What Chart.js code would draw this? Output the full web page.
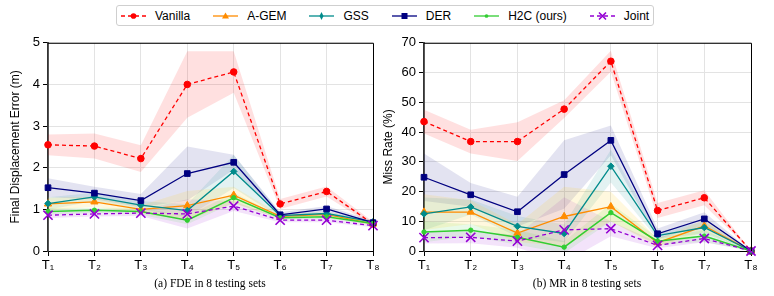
<!DOCTYPE html>
<html>
<head>
<meta charset="utf-8">
<script src="https://cdn.jsdelivr.net/npm/chart.js@4.4.1/dist/chart.umd.min.js"></script>
<style>
  body { margin: 0; width: 774px; height: 296px; background: #fff; position: relative; overflow: hidden;
         font-family: "Liberation Sans", Arial, sans-serif; }
  canvas { position: absolute; top: 32px; }
  #fdeChart { left: 0; }
  #mrChart { left: 380px; }
  #legend { position: absolute; left: 116px; top: 5px; height: 21px; box-sizing: border-box;
            border: 1px solid #cfcfcf; border-radius: 3px; display: flex; align-items: center;
            padding: 0 4px 0 4px; font-size: 12px; color: #000; }
  .item { display: flex; align-items: center; margin-right: 23px; }
  .item:last-child { margin-right: 0; }
  .item svg { margin-right: 9px; }
  .caption { position: absolute; top: 277px; font-family: "Liberation Serif", "Times New Roman", serif;
             font-size: 11.5px; transform: translateX(-50%); white-space: nowrap; }
</style>
</head>
<body>
<div id="legend"></div>
<canvas id="fdeChart" width="387" height="254"></canvas>
<canvas id="mrChart" width="394" height="254"></canvas>
<div class="caption" style="left:210px">(a) FDE in 8 testing sets</div>
<div class="caption" style="left:587px">(b) MR in 8 testing sets</div>
<script>
const categories = ["T\u2081", "T\u2082", "T\u2083", "T\u2084", "T\u2085", "T\u2086", "T\u2087", "T\u2088"];
const methods = ["Vanilla", "A-GEM", "GSS", "DER", "H2C (ours)", "Joint"];

// FDE (m), mean and std per testing set
const fdeVanilla = [2.55, 2.52, 2.22, 4.0, 4.3, 1.13, 1.43, 0.65];
const fdeAgem = [1.13, 1.18, 1.0, 1.09, 1.34, 0.83, 0.88, 0.65];
const fdeGss = [1.14, 1.30, 1.10, 0.97, 1.91, 0.85, 0.90, 0.70];
const fdeDer = [1.52, 1.39, 1.21, 1.86, 2.13, 0.87, 1.01, 0.68];
const fdeH2c = [0.95, 0.98, 0.95, 0.74, 1.28, 0.80, 0.82, 0.66];
const fdeJoint = [0.86, 0.89, 0.91, 0.89, 1.08, 0.74, 0.74, 0.61];

const fdeVanillaStd = [0.25, 0.30, 0.32, 0.80, 0.50, 0.12, 0.12, 0.05];
const fdeAgemStd = [0.15, 0.12, 0.10, 0.35, 0.20, 0.05, 0.05, 0.04];
const fdeGssStd = [0.15, 0.10, 0.10, 0.15, 0.40, 0.05, 0.05, 0.04];
const fdeDerStd = [0.23, 0.15, 0.16, 0.65, 0.18, 0.06, 0.07, 0.05];
const fdeH2cStd = [0.08, 0.06, 0.08, 0.10, 0.12, 0.04, 0.04, 0.03];
const fdeJointStd = [0.07, 0.06, 0.07, 0.35, 0.12, 0.05, 0.05, 0.04];

// Miss rate (%), mean and std per testing set
const mrVanilla = [43.5, 36.8, 36.8, 47.7, 63.8, 13.6, 17.9, 0];
const mrAgem = [13.1, 13.1, 6.0, 11.6, 14.9, 2.8, 8.4, 0];
const mrGss = [12.5, 14.8, 8.3, 5.9, 28.5, 5.2, 7.9, 0];
const mrDer = [24.8, 18.9, 13.2, 25.7, 37.2, 5.8, 10.8, 0];
const mrH2c = [6.4, 7.0, 4.6, 1.3, 12.9, 3.3, 5.0, 0];
const mrJoint = [4.5, 4.6, 3.3, 7.1, 7.5, 1.9, 4.2, 0];

const mrVanillaStd = [4, 4, 6.5, 3, 3.5, 2.5, 2.5, 0];
const mrAgemStd = [6, 4, 3, 10, 5, 1.3, 2, 0];
const mrGssStd = [5.5, 2.5, 3.5, 3, 5.5, 1.2, 2, 0];
const mrDerStd = [8, 4, 5, 11.5, 5, 1.8, 2.2, 0];
const mrH2cStd = [3.5, 2, 2.5, 2, 3, 1.2, 2, 0];
const mrJointStd = [2, 2, 2.2, 11, 2.5, 1, 1.3, 0];

const styles = [
  { color: "#ff0000", band: "rgba(255,0,0,0.12)", marker: "circle", radius: 3.3, dash: [4, 3], width: 1.3 },
  { color: "#ff8c00", band: "rgba(255,200,0,0.13)", marker: "triangle", radius: 4.2, dash: [], width: 1.3 },
  { color: "#008b8b", band: "rgba(0,139,139,0.11)", marker: "rectRot", radius: 3.3, dash: [], width: 1.3 },
  { color: "#000080", band: "rgba(0,0,128,0.11)", marker: "rect", radius: 4, dash: [], width: 1.3 },
  { color: "#32cd32", band: "rgba(50,205,50,0.11)", marker: "circle", radius: 2.2, dash: [], width: 1.5 },
  { color: "#9400d3", band: "rgba(148,0,211,0.11)", marker: "crossRot", radius: 6.5, dash: [4, 3], width: 1.3 },
];

function buildDatasets(means, stds) {
  const bands = [];
  const lines = [];
  means.forEach((m, i) => {
    const s = styles[i];
    bands.push({
      data: m.map((v, k) => v + stds[i][k]), order: 20,
      borderWidth: 0, pointRadius: 0, backgroundColor: s.band, fill: "+1", tension: 0,
    });
    bands.push({
      data: m.map((v, k) => v - stds[i][k]), order: 20,
      borderWidth: 0, pointRadius: 0, backgroundColor: s.band, fill: false, tension: 0,
    });
    // later methods sit on top, as in the original figure
    lines.push({
      label: methods[i], data: m, order: 10 - i, borderColor: s.color, backgroundColor: s.color,
      borderWidth: s.width, borderDash: s.dash, pointStyle: s.marker, pointRadius: s.radius,
      pointBorderWidth: s.marker === "crossRot" ? 1.6 : 1, pointBorderColor: s.color,
      fill: false, tension: 0, clip: false,
    });
  });
  return bands.concat(lines);
}

const framePlugin = {
  id: "frame",
  afterDraw(chart) {
    const { ctx, chartArea: a } = chart;
    ctx.save();
    ctx.strokeStyle = "#000";
    ctx.lineWidth = 1;
    ctx.beginPath();
    ctx.moveTo(a.left, a.top + 0.5);
    ctx.lineTo(a.right + 0.5, a.top + 0.5);
    ctx.lineTo(a.right + 0.5, a.bottom);
    ctx.stroke();
    ctx.restore();
  },
};

function makeChart(id, datasets, yMax, yStep, yTitle, yWidth, titleTop, rightPad) {
  return new Chart(document.getElementById(id).getContext("2d"), {
    type: "line",
    data: { labels: categories, datasets: datasets },
    options: {
      responsive: false,
      animation: false,
      events: [],
      layout: { padding: { top: 9, right: rightPad, left: 0, bottom: 0 } },
      plugins: { legend: { display: false }, tooltip: { enabled: false }, filler: { drawTime: "beforeDatasetsDraw" } },
      scales: {
        x: {
          grid: { color: "#e3e3e3", tickColor: "#000", tickLength: 5 },
          border: { color: "#000", width: 1 },
          ticks: { color: "#000", font: { family: "Liberation Sans", size: 13 }, padding: 2, maxRotation: 0 },
          afterFit(scale) { scale.height = 35; },
        },
        y: {
          min: 0, max: yMax,
          grid: { color: "#e3e3e3", tickColor: "#000", tickLength: 5 },
          border: { color: "#333", width: 1.8 },
          ticks: { stepSize: yStep, color: "#000", font: { family: "Liberation Sans", size: 13 }, padding: 3 },
          title: { display: true, text: yTitle, color: "#000", font: { family: "Liberation Sans", size: 12 },
                   padding: { top: titleTop, bottom: 0 } },
          afterFit(scale) { scale.width = yWidth; },
        },
      },
    },
    plugins: [framePlugin],
  });
}

makeChart("fdeChart",
  buildDatasets([fdeVanilla, fdeAgem, fdeGss, fdeDer, fdeH2c, fdeJoint],
                [fdeVanillaStd, fdeAgemStd, fdeGssStd, fdeDerStd, fdeH2cStd, fdeJointStd]),
  5, 1, "Final Displacement Error (m)", 48, 8, 14);

makeChart("mrChart",
  buildDatasets([mrVanilla, mrAgem, mrGss, mrDer, mrH2c, mrJoint],
                [mrVanillaStd, mrAgemStd, mrGssStd, mrDerStd, mrH2cStd, mrJointStd]),
  70, 10, "Miss Rate (%)", 44, 1, 23);

// HTML legend with small line+marker icons
function markerSvg(s) {
  const c = s.color;
  const dash = s.dash.length ? 'stroke-dasharray="4 3"' : "";
  let m = "";
  if (s.marker === "circle") m = `<circle cx="12.5" cy="5" r="${s.radius * 0.85}" fill="${c}"/>`;
  if (s.marker === "triangle") m = `<polygon points="12.5,1.5 16,7.5 9,7.5" fill="${c}"/>`;
  if (s.marker === "rectRot") m = `<polygon points="12.5,1 14.5,5 12.5,9 10.5,5" fill="${c}"/>`;
  if (s.marker === "rect") m = `<rect x="9.5" y="2" width="6" height="6" fill="${c}"/>`;
  if (s.marker === "crossRot") m = `<path d="M9 1.5 L16 8.5 M16 1.5 L9 8.5" stroke="${c}" stroke-width="1.6"/>`;
  return `<svg width="25" height="10"><line x1="0" y1="5" x2="25" y2="5" stroke="${c}" stroke-width="1.3" ${dash}/>${m}</svg>`;
}
const legend = document.getElementById("legend");
methods.forEach((name, i) => {
  const el = document.createElement("div");
  el.className = "item";
  el.innerHTML = markerSvg(styles[i]) + "<span>" + name + "</span>";
  legend.appendChild(el);
});
</script>
</body>
</html>
